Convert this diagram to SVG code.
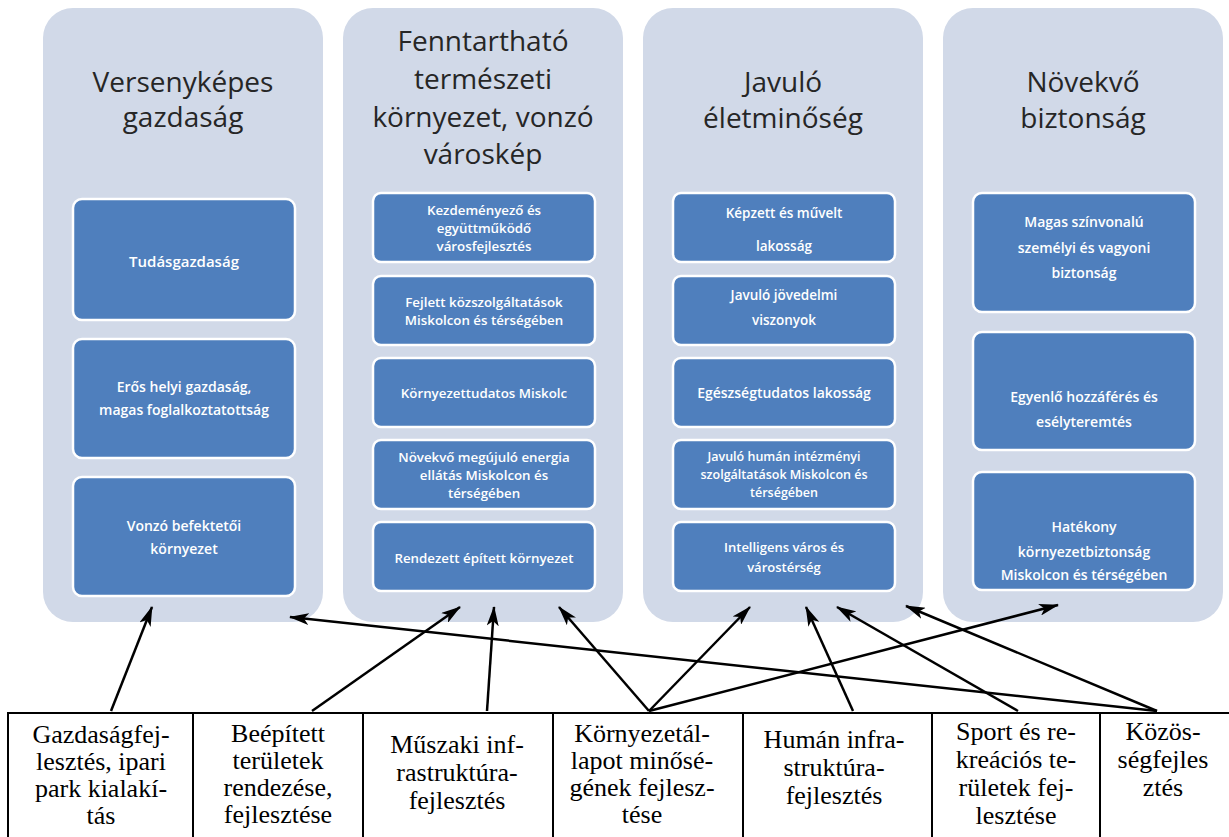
<svg xmlns="http://www.w3.org/2000/svg" width="1229" height="837" viewBox="0 0 1229 837">
<defs>
<style>
.col{fill:#d1d9e8;}
.box{fill:#4f7fbd;stroke:#ffffff;stroke-width:2.5;}
.title{font-family:"Open Sans","Liberation Sans",sans-serif;font-size:28px;fill:#262626;text-anchor:middle;}
.bt{font-family:"Open Sans","Liberation Sans",sans-serif;font-weight:600;fill:#ffffff;text-anchor:middle;}
.ct{font-family:"Liberation Serif","Times New Roman",serif;font-size:26px;fill:#000;text-anchor:middle;}
.tl{stroke:#000;stroke-width:2;fill:none;}
.ar{stroke:#000;stroke-width:2.5;fill:none;marker-end:url(#ah);}
</style>
<marker id="ah" viewBox="0 0 20 12" refX="19" refY="6" markerWidth="20" markerHeight="12" markerUnits="userSpaceOnUse" orient="auto">
<path d="M0,0 L20,6 L0,12 L5,6 z" fill="#000"/>
</marker>
</defs>
<rect width="1229" height="837" fill="#ffffff"/>

<g id="col1">
<rect class="col" x="43" y="8" width="280" height="614" rx="30"/>
<text class="title" x="183" y="92">Versenyképes</text>
<text class="title" x="183" y="127">gazdaság</text>
<g id="c1b1"><rect class="box" x="73" y="199" width="222" height="121" rx="9"/>
<text class="bt" x="184" y="267" font-size="15">Tudásgazdaság</text></g>
<g id="c1b2"><rect class="box" x="73" y="339" width="222" height="119" rx="9"/>
<text class="bt" x="184" y="392" font-size="14">Erős helyi gazdaság,</text>
<text class="bt" x="184" y="415" font-size="14">magas foglalkoztatottság</text></g>
<g id="c1b3"><rect class="box" x="73" y="477" width="222" height="119" rx="9"/>
<text class="bt" x="184" y="531" font-size="14">Vonzó befektetői</text>
<text class="bt" x="184" y="554" font-size="14">környezet</text></g>
</g>

<g id="col2">
<rect class="col" x="343" y="8" width="280" height="614" rx="30"/>
<text class="title" x="483" y="51">Fenntartható</text>
<text class="title" x="483" y="89">természeti</text>
<text class="title" x="483" y="127">környezet, vonzó</text>
<text class="title" x="483" y="164">városkép</text>
<g id="c2b1"><rect class="box" x="373" y="193" width="222" height="69" rx="8"/>
<text class="bt" x="484" y="215" font-size="13.3">Kezdeményező és</text>
<text class="bt" x="484" y="233" font-size="13.3">együttműködő</text>
<text class="bt" x="484" y="251" font-size="13.3">városfejlesztés</text></g>
<g id="c2b2"><rect class="box" x="373" y="276" width="222" height="69" rx="8"/>
<text class="bt" x="484" y="307" font-size="13.3">Fejlett közszolgáltatások</text>
<text class="bt" x="484" y="325" font-size="13.3">Miskolcon és térségében</text></g>
<g id="c2b3"><rect class="box" x="373" y="358" width="222" height="69" rx="8"/>
<text class="bt" x="484" y="398" font-size="13.3">Környezettudatos Miskolc</text></g>
<g id="c2b4"><rect class="box" x="373" y="440" width="222" height="69" rx="8"/>
<text class="bt" x="484" y="462" font-size="13.3">Növekvő megújuló energia</text>
<text class="bt" x="484" y="480" font-size="13.3">ellátás Miskolcon és</text>
<text class="bt" x="484" y="498" font-size="13.3">térségében</text></g>
<g id="c2b5"><rect class="box" x="373" y="522" width="222" height="69" rx="8"/>
<text class="bt" x="484" y="563" font-size="13.3">Rendezett épített környezet</text></g>
</g>

<g id="col3">
<rect class="col" x="643" y="8" width="280" height="614" rx="30"/>
<text class="title" x="783" y="92">Javuló</text>
<text class="title" x="783" y="128">életminőség</text>
<g id="c3b1"><rect class="box" x="673" y="193" width="222" height="69" rx="8"/>
<text class="bt" x="784" y="218" font-size="13.5">Képzett és művelt</text>
<text class="bt" x="784" y="251" font-size="13.5">lakosság</text></g>
<g id="c3b2"><rect class="box" x="673" y="276" width="222" height="69" rx="8"/>
<text class="bt" x="784" y="300" font-size="13.5">Javuló jövedelmi</text>
<text class="bt" x="784" y="325" font-size="13.5">viszonyok</text></g>
<g id="c3b3"><rect class="box" x="673" y="358" width="222" height="69" rx="8"/>
<text class="bt" x="784" y="398" font-size="14">Egészségtudatos lakosság</text></g>
<g id="c3b4"><rect class="box" x="673" y="440" width="222" height="69" rx="8"/>
<text class="bt" x="784" y="461" font-size="12.5">Javuló humán intézményi</text>
<text class="bt" x="784" y="479" font-size="12.5">szolgáltatások Miskolcon és</text>
<text class="bt" x="784" y="497" font-size="12.5">térségében</text></g>
<g id="c3b5"><rect class="box" x="673" y="522" width="222" height="69" rx="8"/>
<text class="bt" x="784" y="552" font-size="13">Intelligens város és</text>
<text class="bt" x="784" y="572" font-size="13">várostérség</text></g>
</g>

<g id="col4">
<rect class="col" x="943" y="8" width="280" height="614" rx="30"/>
<text class="title" x="1083" y="92">Növekvő</text>
<text class="title" x="1083" y="128">biztonság</text>
<g id="c4b1"><rect class="box" x="973" y="193" width="222" height="119" rx="9"/>
<text class="bt" x="1084" y="227" font-size="14">Magas színvonalú</text>
<text class="bt" x="1084" y="253" font-size="14">személyi és vagyoni</text>
<text class="bt" x="1084" y="278" font-size="14">biztonság</text></g>
<g id="c4b2"><rect class="box" x="973" y="332" width="222" height="118" rx="9"/>
<text class="bt" x="1084" y="402" font-size="14">Egyenlő hozzáférés és</text>
<text class="bt" x="1084" y="427" font-size="14">esélyteremtés</text></g>
<g id="c4b3"><rect class="box" x="973" y="472" width="222" height="118" rx="9"/>
<text class="bt" x="1084" y="532" font-size="14">Hatékony</text>
<text class="bt" x="1084" y="557" font-size="14">környezetbiztonság</text>
<text class="bt" x="1084" y="580" font-size="14">Miskolcon és térségében</text></g>
</g>

<g id="table">
<line class="tl" x1="8" y1="713" x2="1229" y2="713"/>
<line class="tl" x1="8" y1="712" x2="8" y2="837"/>
<line class="tl" x1="193" y1="712" x2="193" y2="837"/>
<line class="tl" x1="363" y1="712" x2="363" y2="837"/>
<line class="tl" x1="553" y1="712" x2="553" y2="837"/>
<line class="tl" x1="743" y1="712" x2="743" y2="837"/>
<line class="tl" x1="932" y1="712" x2="932" y2="837"/>
<line class="tl" x1="1100" y1="712" x2="1100" y2="837"/>
</g>

<g id="cell1"><text class="ct" x="101" y="743">Gazdaságfej-</text><text class="ct" x="101" y="770">lesztés, ipari</text><text class="ct" x="101" y="797">park kialakí-</text><text class="ct" x="101" y="824">tás</text></g>
<g id="cell2"><text class="ct" x="278" y="742">Beépített</text><text class="ct" x="278" y="769">területek</text><text class="ct" x="278" y="796">rendezése,</text><text class="ct" x="278" y="823">fejlesztése</text></g>
<g id="cell3"><text class="ct" x="457" y="753">Műszaki inf-</text><text class="ct" x="457" y="781">rastruktúra-</text><text class="ct" x="457" y="809">fejlesztés</text></g>
<g id="cell4"><text class="ct" x="642" y="742">Környezetál-</text><text class="ct" x="642" y="769">lapot minősé-</text><text class="ct" x="642" y="796">gének fejlesz-</text><text class="ct" x="642" y="823">tése</text></g>
<g id="cell5"><text class="ct" x="834" y="748">Humán infra-</text><text class="ct" x="834" y="776">struktúra-</text><text class="ct" x="834" y="804">fejlesztés</text></g>
<g id="cell6"><text class="ct" x="1016" y="740">Sport és re-</text><text class="ct" x="1016" y="768">kreációs te-</text><text class="ct" x="1016" y="796">rületek fej-</text><text class="ct" x="1016" y="824">lesztése</text></g>
<g id="cell7"><text class="ct" x="1163" y="740">Közös-</text><text class="ct" x="1163" y="768">ségfejles</text><text class="ct" x="1163" y="796">ztés</text></g>

<g id="connectors">
<line class="ar" x1="111" y1="711" x2="152" y2="607"/>
<line class="ar" x1="312" y1="711" x2="460" y2="607"/>
<line class="ar" x1="487" y1="711" x2="494" y2="607"/>
<line class="ar" x1="649" y1="711" x2="559" y2="607"/>
<line class="ar" x1="649" y1="711" x2="750" y2="607"/>
<line class="ar" x1="649" y1="711" x2="1058" y2="605"/>
<line class="ar" x1="853" y1="711" x2="806" y2="607"/>
<line class="ar" x1="1018" y1="711" x2="837" y2="607"/>
<line class="ar" x1="1157" y1="711" x2="906" y2="606"/>
<line class="ar" x1="1157" y1="711" x2="290" y2="617"/>
</g>
</svg>
